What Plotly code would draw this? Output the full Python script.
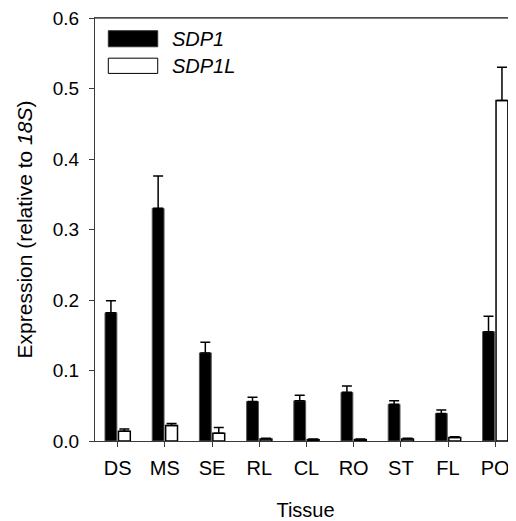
import plotly.graph_objects as go

tissues = ["DS", "MS", "SE", "RL", "CL", "RO", "ST", "FL", "PO"]
sdp1 = [0.182, 0.330, 0.125, 0.056, 0.057, 0.069, 0.052, 0.039, 0.155]
sdp1_err = [0.017, 0.046, 0.015, 0.006, 0.008, 0.009, 0.005, 0.005, 0.022]
sdp1l = [0.014, 0.022, 0.011, 0.003, 0.002, 0.002, 0.003, 0.005, 0.483]
sdp1l_err = [0.003, 0.003, 0.008, 0.001, 0.001, 0.001, 0.001, 0.001, 0.047]

FONT = "Arial, Liberation Sans, sans-serif"
AXC = "#3a3a3a"

fig = go.Figure()
fig.add_trace(go.Bar(
    x=tissues, y=sdp1, name="SDP1", showlegend=False,
    marker=dict(color="black", line=dict(color="#555555", width=1)),
    error_y=dict(type="data", array=sdp1_err, arrayminus=[0] * len(sdp1_err),
                 symmetric=False, color="black", thickness=1.5, width=5),
))
fig.add_trace(go.Bar(
    x=tissues, y=sdp1l, name="SDP1L", showlegend=False,
    marker=dict(color="white", line=dict(color="black", width=1.5)),
    error_y=dict(type="data", array=sdp1l_err, arrayminus=[0] * len(sdp1l_err),
                 symmetric=False, color="black", thickness=1.5, width=5),
))

# legend drawn manually (boxes + italic labels)
legend_items = [("SDP1", "black", "#333333", 0.970, 0.932),
                ("SDP1L", "white", "black", 0.905, 0.869)]
for label, fill, edge, y1, y0 in legend_items:
    fig.add_shape(type="rect", xref="paper", yref="paper",
                  x0=0.0316, x1=0.149, y0=y0, y1=y1,
                  fillcolor=fill, line=dict(color=edge, width=1))
    fig.add_annotation(xref="paper", yref="paper", x=0.178, y=(y0 + y1) / 2,
                       text=f"<i>{label}</i>", showarrow=False,
                       xanchor="left", yanchor="middle",
                       font=dict(family=FONT, size=20, color="black"))

# top frame line of the plot area
fig.add_shape(type="line", xref="paper", yref="paper", x0=0, x1=1, y0=1, y1=1,
              line=dict(color="#555555", width=1.5), layer="above")

# page body adds an 8px margin, so the figure is sized to fit the window
fig.update_layout(
    width=508, height=513,
    margin=dict(l=87, r=0, t=10, b=80),
    paper_bgcolor="white", plot_bgcolor="white",
    barmode="group", bargap=0.43, bargroupgap=0.12,
    font=dict(family=FONT, size=20, color="black"),
    xaxis=dict(
        range=[-0.48, 8.44], showgrid=False, showline=True, linecolor=AXC,
        linewidth=1, mirror=True, ticks="outside", ticklen=5, tickcolor=AXC,
        automargin=False, ticklabelstandoff=4, ticklabeloverflow="allow",
        title=dict(text="Tissue", standoff=30, font=dict(size=20)),
        tickfont=dict(size=20),
    ),
    yaxis=dict(
        range=[0, 0.6], dtick=0.1, tickformat=".1f", showgrid=False,
        showline=True, linecolor=AXC, linewidth=1, ticks="outside",
        ticklen=5, tickcolor=AXC, zeroline=False, automargin=False,
        ticklabelstandoff=6, ticklabeloverflow="allow",
        title=dict(text="Expression (relative to <i>18S</i>)", standoff=14,
                   font=dict(size=21)),
        tickfont=dict(size=19),
    ),
)

fig.write_html("out.html")
